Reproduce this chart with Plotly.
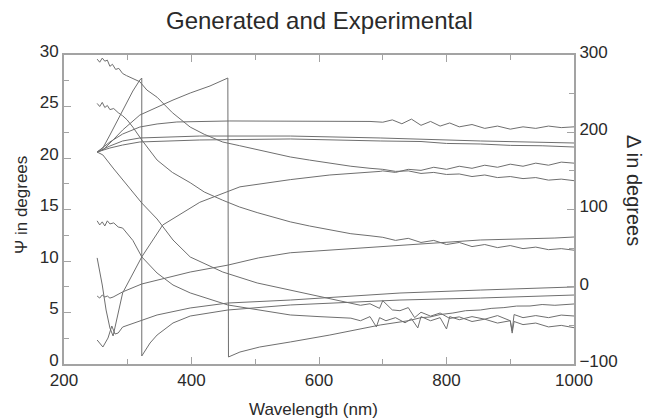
import plotly.graph_objects as go

# ---------------- data ----------------
# Psi curves (left axis, degrees)
psiA_wl = [252, 256, 260, 264, 268, 272, 276, 281, 286, 292, 298, 305, 312, 319, 330, 346, 370, 398, 420, 449, 475, 503, 530, 555, 585, 617, 650, 680, 700, 720, 740, 760, 780, 800, 820, 840, 860, 880, 900, 920, 940, 960, 980, 1000]
psiA = [29.6, 29.3, 29.7, 29.4, 29.5, 28.9, 29.1, 28.6, 28.7, 28.2, 28.0, 27.8, 27.6, 27.4, 26.6, 25.9, 24.4, 23.0, 22.3, 21.55, 21.2, 20.8, 20.4, 20.1, 19.8, 19.5, 19.2, 19.0, 18.9, 18.7, 18.75, 18.5, 18.6, 18.4, 18.45, 18.2, 18.35, 18.1, 18.2, 18.0, 18.1, 17.85, 17.95, 17.8]

psiB_wl = [252, 256, 260, 264, 268, 272, 278, 285, 292, 299, 308, 322, 346, 370, 398, 420, 449, 475, 503, 530, 555, 585, 617, 650, 680, 700, 720, 740, 760, 780, 800, 820, 840, 860, 880, 900, 920, 940, 960, 980, 1000]
psiB = [25.3, 25.0, 25.4, 24.9, 25.1, 24.7, 24.8, 24.4, 24.1, 23.7, 23.0, 21.75, 19.8, 18.6, 17.6, 16.7, 15.9, 15.25, 14.7, 14.2, 13.8, 13.4, 13.0, 12.65, 12.45, 12.3, 12.0, 12.2, 11.8, 12.0, 11.6, 11.8, 11.4, 11.6, 11.3, 11.5, 11.2, 11.35, 11.1, 11.2, 11.05]

psiC_wl = [252, 256, 260, 264, 268, 272, 277, 292, 322, 346, 398, 457, 505, 555, 617, 696, 774, 853, 970, 1000]
psiC = [6.6, 6.4, 6.7, 6.5, 6.6, 6.4, 6.5, 7.0, 7.77, 8.16, 8.93, 9.6, 10.3, 10.8, 11.07, 11.36, 11.75, 12.04, 12.23, 12.33]

psiD_wl = [252, 256, 260, 264, 268, 272, 278, 285, 292, 308, 322, 346, 371, 398, 457, 555, 600, 644, 650, 665, 680, 690, 695, 705, 720, 735, 745, 755, 760, 775, 790, 800, 805, 820, 840, 860, 880, 900, 903, 906, 920, 940, 960, 980, 1000]
psiD = [13.9, 13.5, 13.8, 13.4, 13.9, 13.6, 13.7, 13.3, 13.2, 12.0, 10.4, 8.83, 7.67, 6.9, 5.73, 4.76, 4.6, 4.47, 4.45, 4.2, 4.6, 3.6, 4.5, 4.2, 4.5, 4.0, 4.4, 3.5, 4.6, 4.2, 4.5, 3.4, 4.6, 4.3, 4.6, 4.35, 4.7, 4.2, 3.2, 4.8, 4.5, 4.7, 4.5, 4.75, 4.66]

psiE_wl = [252, 260, 266, 272, 277, 283, 292, 322, 355, 413, 476, 555, 617, 696, 700, 720, 740, 760, 780, 800, 820, 840, 860, 880, 900, 920, 940, 960, 980, 1000]
psiE = [10.3, 7.67, 5.24, 3.5, 2.72, 4.47, 6.9, 10.4, 13.5, 15.7, 17.2, 17.9, 18.35, 18.7, 18.75, 18.6, 18.9, 18.8, 19.1, 18.9, 19.2, 19.0, 19.3, 19.1, 19.4, 19.2, 19.5, 19.3, 19.6, 19.5]

psiF_wl = [252, 261, 269, 275, 280, 285, 292, 322, 346, 398, 457, 555, 649, 727, 853, 1000]
psiF = [2.33, 1.65, 2.52, 3.69, 2.91, 3.01, 3.59, 4.27, 4.76, 5.44, 5.92, 6.21, 6.6, 6.89, 7.18, 7.48]

# Delta curves (right axis, degrees); wrapped branches jump by 360
delA_wl = [252, 272, 292, 319, 346, 377, 460, 555, 680, 700, 715, 730, 745, 760, 775, 790, 805, 820, 840, 860, 880, 900, 920, 940, 960, 980, 1000]
delA = [174.4, 187.4, 197.7, 206.8, 210.7, 213.3, 214.6, 214.6, 214.0, 213, 216, 211, 217, 209, 214, 208, 212, 207, 210, 205, 208, 204, 207, 205, 208, 206, 207]

delB_wl = [252, 272, 292, 319, 413, 555, 696, 853, 1000]
delB = [174.4, 182.2, 188.7, 192.6, 195.1, 195.1, 192.6, 188.7, 186.1]

delC_wl = [252, 272, 292, 319, 413, 555, 696, 760, 800, 853, 900, 950, 1000]
delC = [174.4, 179.6, 183.5, 187.4, 190.0, 191.3, 188.7, 188.0, 185.5, 184.8, 183.0, 182.5, 180.9]

delD_wl = [252, 261, 272, 283, 292, 299, 308, 319, 322, 322, 335, 346, 371, 398, 457, 555, 649, 727, 853, 970, 1000]
delD = [174.4, 179.6, 196.4, 213.3, 228.8, 239.2, 253.4, 267.6, 270.2, -89.6, -72.8, -62.5, -46.9, -37.9, -30.1, -23.6, -19.7, -17.2, -14.6, -12.0, -10.7]

delE_wl = [252, 261, 277, 292, 319, 346, 371, 398, 429, 457, 458, 476, 507, 555, 617, 696, 720, 740, 760, 774, 790, 810, 830, 853, 870, 890, 910, 931, 950, 970, 1000]
delE = [174.4, 177.0, 190.0, 202.9, 222.3, 232.7, 241.7, 250.8, 259.9, 270.2, -90.9, -84.5, -78.0, -71.5, -62.5, -49.5, -46, -44, -40, -39.2, -36, -34, -31, -30.1, -28, -27, -25, -24.9, -23, -24, -22.3]

delF_wl = [252, 261, 277, 292, 308, 322, 346, 371, 398, 449, 503, 555, 602, 649, 665, 680, 695, 700, 715, 727, 740, 750, 760, 775, 790, 805, 820, 840, 860, 880, 900, 903, 906, 920, 940, 960, 980, 1000]
delF = [174.4, 170.6, 153.7, 138.2, 121.4, 108.4, 87.7, 60.5, 38.5, 19.1, 4.9, -4.2, -12.0, -21, -24, -22, -28, -18, -30, -31, -27, -40, -33, -38, -34, -41, -39, -45, -42, -47, -44, -60, -45, -49, -47, -52, -50, -53]

psi_series = [(psiA_wl, psiA), (psiB_wl, psiB), (psiC_wl, psiC), (psiD_wl, psiD), (psiE_wl, psiE), (psiF_wl, psiF)]
del_series = [(delA_wl, delA), (delB_wl, delB), (delC_wl, delC), (delD_wl, delD), (delE_wl, delE), (delF_wl, delF)]

x_ticks = [200, 400, 600, 800, 1000]
psi_ticks = [0, 5, 10, 15, 20, 25, 30]
del_ticks = [-100, 0, 100, 200, 300]

# ---------------- figure ----------------
FONT = "Liberation Sans, Arial, sans-serif"
LINE = "#6f6f6f"
AX = "#a3a3a3"

fig = go.Figure()
for wl, v in psi_series:
    fig.add_trace(go.Scatter(x=wl, y=v, mode="lines", line=dict(color=LINE, width=1),
                             yaxis="y", showlegend=False, hoverinfo="skip"))
for wl, v in del_series:
    fig.add_trace(go.Scatter(x=wl, y=v, mode="lines", line=dict(color=LINE, width=1),
                             yaxis="y2", showlegend=False, hoverinfo="skip"))

tickfont = dict(family=FONT, size=17, color="#2a2a2a")
fig.update_layout(
    width=645, height=418,
    margin=dict(l=64, r=71, t=55, b=54),
    paper_bgcolor="white", plot_bgcolor="white",
    showlegend=False,
    xaxis=dict(range=[200, 1000], tickvals=x_ticks, ticks="inside", ticklen=7, tickcolor=AX,
               showline=True, linecolor=AX, linewidth=2, mirror="ticks",
               showgrid=False, zeroline=False, tickfont=tickfont,
               minor=dict(tickvals=[300, 500, 700, 900], ticks="inside", ticklen=5, tickcolor=AX)),
    yaxis=dict(range=[0, 30], tickvals=psi_ticks, ticks="inside", ticklen=7, tickcolor=AX,
               showline=True, linecolor=AX, linewidth=2, showgrid=False, zeroline=False,
               tickfont=tickfont, ticklabelshift=-4,
               minor=dict(dtick=2.5, ticks="inside", ticklen=5, tickcolor=AX)),
    yaxis2=dict(range=[-100, 300], tickvals=del_ticks, ticks="inside", ticklen=7, tickcolor=AX,
                overlaying="y", side="right", showline=True, linecolor=AX, linewidth=2,
                showgrid=False, zeroline=False, tickfont=tickfont, ticklabelshift=-3,
                minor=dict(dtick=50, ticks="inside", ticklen=5, tickcolor=AX)),
    annotations=[
        dict(text="Generated and Experimental", xref="paper", yref="paper", x=0.5, y=1,
             yshift=35, showarrow=False, xanchor="center", yanchor="middle",
             font=dict(family=FONT, size=24, color="#2a2a2a")),
        dict(text="Wavelength (nm)", xref="paper", yref="paper", x=(313 - 64) / 510, y=0,
             yshift=-45, showarrow=False, xanchor="center", yanchor="middle",
             font=dict(family=FONT, size=17, color="#2a2a2a")),
        dict(text="Ψ in degrees", xref="paper", yref="paper", x=0, xshift=-43,
             y=(364 - 205) / 309, showarrow=False, xanchor="center", yanchor="middle",
             textangle=-90, font=dict(family=FONT, size=17, color="#2a2a2a")),
        dict(text="Δ in degrees", xref="paper", yref="paper", x=1, xshift=60,
             y=(364 - 190) / 309, showarrow=False, xanchor="center", yanchor="middle",
             textangle=90, font=dict(family=FONT, size=20, color="#2a2a2a")),
    ],
)

fig.write_html("out.html")
